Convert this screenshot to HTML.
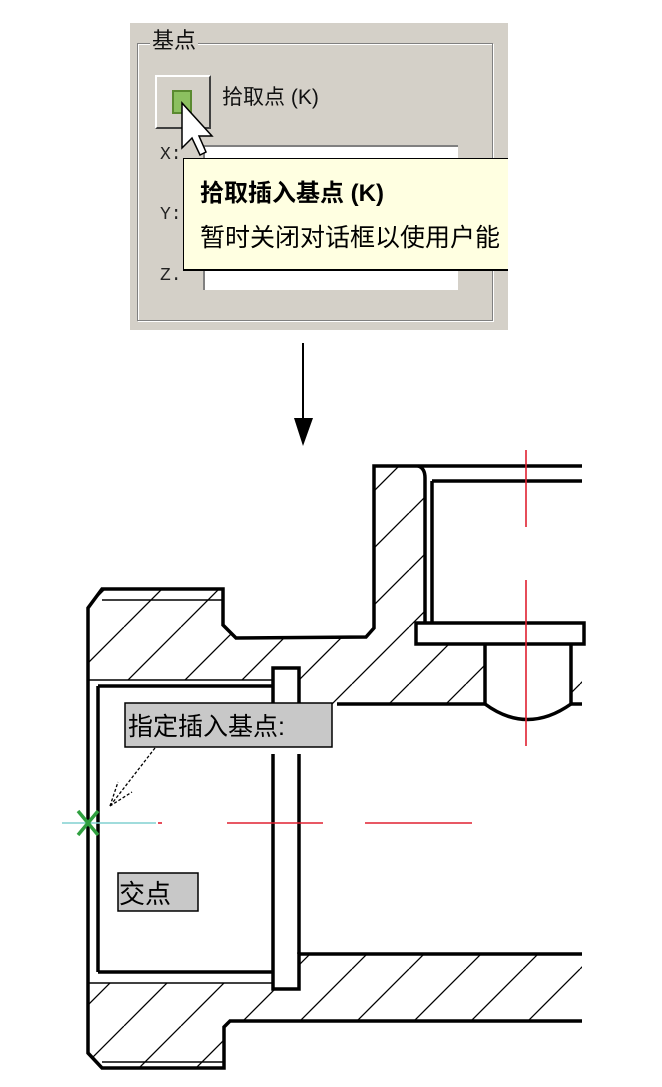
<!DOCTYPE html>
<html><head><meta charset="utf-8"><style>
html,body{margin:0;padding:0;background:#fff;}
body{width:662px;height:1087px;overflow:hidden;position:relative;font-family:"Liberation Sans","Noto Sans CJK SC",sans-serif;}
.abs{position:absolute;}
</style></head><body>
<!-- Dialog -->
<div class="abs" style="left:130px;top:23px;width:378px;height:307px;background:#d4d0c8;"></div>
<div class="abs" style="left:137px;top:43px;width:354px;height:276px;border:1px solid #808080;box-shadow:1px 1px 0 #fff, inset 1px 1px 0 #fff;"></div>
<div class="abs" style="left:150px;top:27px;background:#d4d0c8;padding:0 2px;font-size:22px;line-height:28px;color:#111;">基点</div>
<div class="abs" style="left:155px;top:75px;width:56px;height:54px;background:#d4d0c8;border-top:2px solid #fff;border-left:2px solid #fff;border-right:2px solid #404040;border-bottom:2px solid #404040;box-sizing:border-box;"></div>
<div class="abs" style="left:172px;top:90px;width:20px;height:24px;background:#8cc060;border:2px solid #5a8a30;box-sizing:border-box;"></div>
<div class="abs" style="left:222px;top:84px;font-size:21px;line-height:28px;color:#111;">拾取点 (K)</div>
<div class="abs" style="left:160px;top:145px;font-family:'Liberation Mono',monospace;font-size:18px;color:#222;">X:</div>
<div class="abs" style="left:160px;top:205px;font-family:'Liberation Mono',monospace;font-size:18px;color:#222;">Y:</div>
<div class="abs" style="left:160px;top:266px;font-family:'Liberation Mono',monospace;font-size:18px;color:#222;">Z.</div>
<div class="abs" style="left:203px;top:145px;width:253px;height:20px;background:#fff;border-top:2px solid #808080;border-left:2px solid #808080;"></div>
<div class="abs" style="left:203px;top:268px;width:253px;height:20px;background:#fff;border-top:2px solid #808080;border-left:2px solid #808080;"></div>
<div class="abs" style="left:183px;top:158px;width:325px;height:113px;background:#ffffe1;border-top:1px solid #000;border-left:1px solid #000;border-bottom:2px solid #000;box-sizing:border-box;overflow:hidden;">
<div style="position:absolute;left:16px;top:20px;font-size:24px;line-height:30px;font-weight:bold;white-space:nowrap;color:#000;">拾取插入基点 (K)</div>
<div style="position:absolute;left:16px;top:64px;font-size:25px;line-height:30px;white-space:nowrap;color:#000;">暂时关闭对话框以使用户能</div>
</div>
<svg class="abs" style="left:0;top:0" width="662" height="1087">
<polygon points="182,103 182,148 192,138 200,155 206,152 199,136 212,136" fill="#fff" stroke="#000" stroke-width="1.5"/>
</svg>

<svg class="abs" style="left:0;top:0" width="662" height="1087" viewBox="0 0 662 1087">
<defs>
<pattern id="h" patternUnits="userSpaceOnUse" width="57" height="57" patternTransform="translate(10,0)">
<line x1="0" y1="57" x2="57" y2="0" stroke="#000" stroke-width="1.3"/>
<line x1="-57" y1="57" x2="0" y2="0" stroke="#000" stroke-width="1.3"/>
<line x1="57" y1="57" x2="114" y2="0" stroke="#000" stroke-width="1.3"/>
</pattern>
</defs>
<line x1="303" y1="343" x2="303" y2="420" stroke="#000" stroke-width="2"/>
<polygon points="294,418 313,418 303,446" fill="#000"/>

<polygon fill="url(#h)" points="88,608 102,589 223,589 223,625 236,638 366,638 374,630 374,466 425,466 425,623 416,623 416,644 485,644 485,704 337,704 299,740 299,668 273,668 273,680 88,680"/>
<polygon fill="url(#h)" points="571,644 582,644 582,704 571,704"/>
<polygon fill="url(#h)" points="88,983 273,983 273,989 299,989 299,954 582,954 582,1021 230,1021 224,1027 224,1068 102,1068 88,1053"/>

<g fill="none" stroke="#000" stroke-width="3.5">
<polyline points="582,466 374,466 374,628 366,637 236,638 223,625 223,589 102,589 88,608 88,1053 102,1068 224,1068 224,1027 230,1021 582,1021"/>
<line x1="432" y1="481" x2="582" y2="481"/>
<line x1="432" y1="481" x2="432" y2="623"/>
<path d="M418,466 Q425,468 425,478 L425,623"/>
<rect x="416" y="623" width="168" height="21"/>
<line x1="485" y1="644" x2="485" y2="704"/>
<line x1="571" y1="644" x2="571" y2="704"/>
<path d="M485,704 Q527,735 571,704"/>
<line x1="337" y1="704" x2="485" y2="704"/>
<line x1="571" y1="704" x2="582" y2="704"/>
<line x1="98" y1="686" x2="98" y2="972"/>
<line x1="98" y1="686" x2="273" y2="686"/>
<line x1="98" y1="972" x2="273" y2="972"/>
<polyline points="273,740 273,668 299,668 299,740"/>
<polyline points="273,754 273,989 299,989 299,954 582,954"/>
<line x1="299" y1="754" x2="299" y2="954"/>
</g>
<g stroke="#000" stroke-width="1.5" fill="none">
<line x1="102" y1="600" x2="222" y2="600"/>
<line x1="88" y1="680" x2="273" y2="680"/>
<line x1="88" y1="983" x2="273" y2="983"/>
<line x1="102" y1="1062" x2="224" y2="1062"/>
</g>
<g stroke="#e02030" stroke-width="1.6">
<line x1="526" y1="450" x2="526" y2="527"/>
<line x1="526" y1="580" x2="526" y2="746"/>
<line x1="227" y1="823" x2="323" y2="823"/>
<line x1="365" y1="823" x2="472" y2="823"/>
<line x1="158" y1="823" x2="162" y2="823"/>
</g>
<line x1="62" y1="823" x2="156" y2="823" stroke="#80d0d0" stroke-width="1.6"/>
<g stroke="#30a040" stroke-width="3.5">
<line x1="78" y1="811" x2="98" y2="835"/>
<line x1="98" y1="811" x2="78" y2="835"/>
</g>
<g stroke="#000" stroke-width="1.3" stroke-dasharray="3,2" fill="none">
<line x1="155" y1="748" x2="110" y2="806"/>
<line x1="110" y1="806" x2="118" y2="782"/>
<line x1="110" y1="806" x2="132" y2="792"/>
</g>
<rect x="125" y="703" width="207" height="44" fill="#c8c8c8" stroke="#000" stroke-width="1.5"/>
<text x="128" y="735" font-size="25" font-family="Liberation Sans, Noto Sans CJK SC, sans-serif" fill="#000">指定插入基点:</text>
<rect x="118" y="873" width="80" height="38" fill="#c8c8c8" stroke="#000" stroke-width="1.5"/>
<text x="119" y="903" font-size="26" font-family="Liberation Sans, Noto Sans CJK SC, sans-serif" fill="#000">交点</text>
</svg>
</body></html>
